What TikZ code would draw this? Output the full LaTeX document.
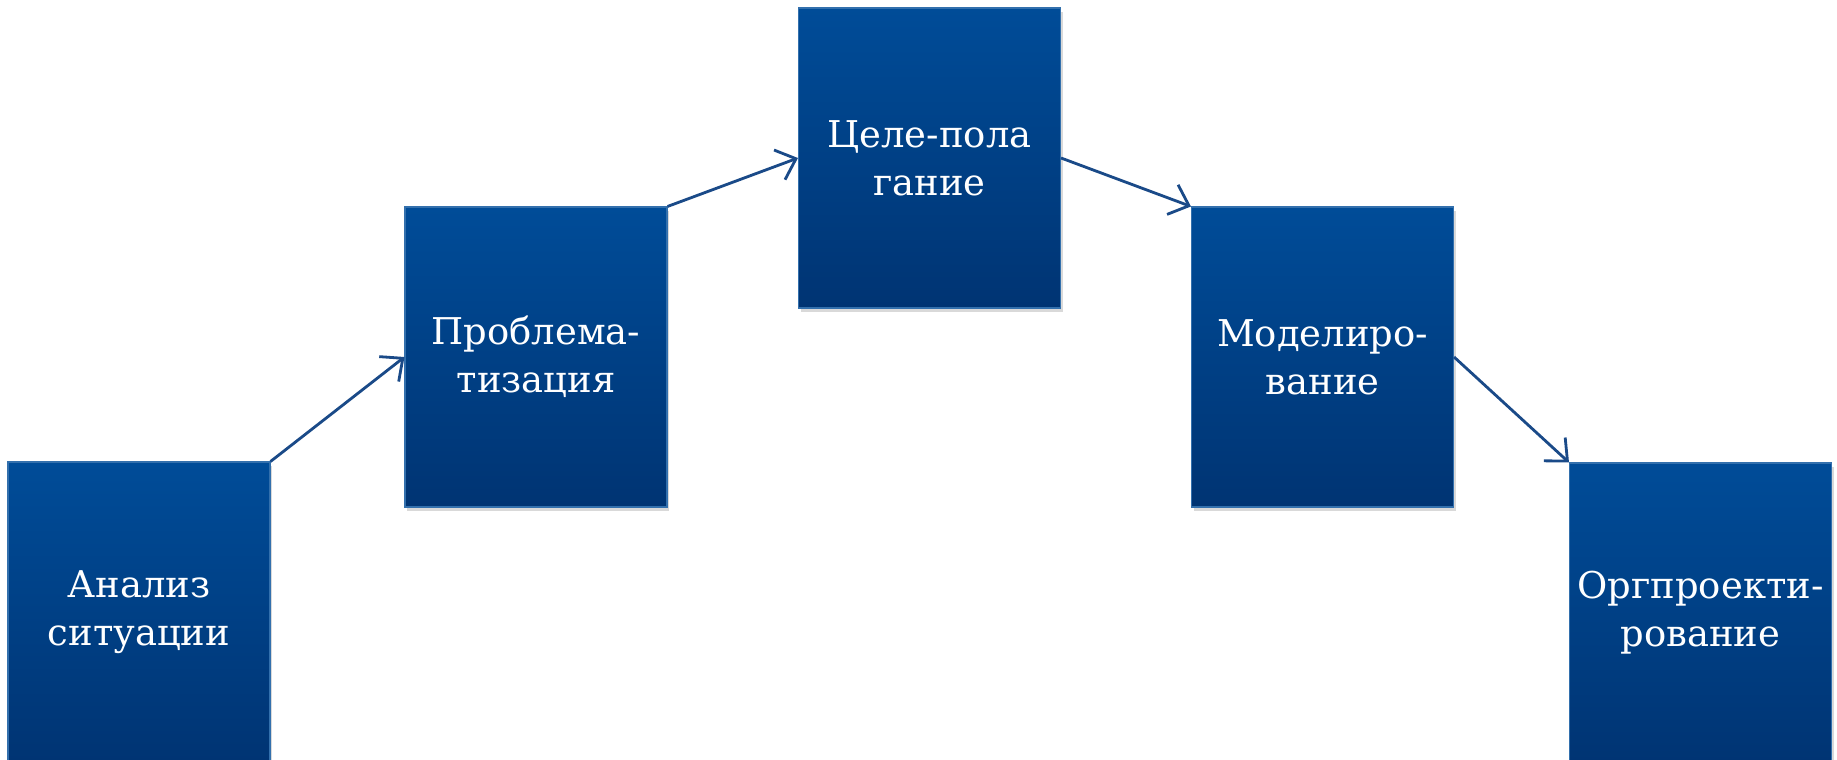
\documentclass[tikz,border=0pt]{standalone}
\usepackage{fontspec}
\setmainfont{DejaVu Serif}
\usepackage{xcolor}
\usepackage{tikz}
\usetikzlibrary{arrows.meta,shadows}

\definecolor{boxtop}{RGB}{0,76,152}
\definecolor{boxbot}{RGB}{0,52,115}
\definecolor{arrowblue}{RGB}{26,74,136}

\begin{document}
\begin{tikzpicture}[
		stage/.style={rectangle, inner sep=0pt, minimum width=2.62cm, minimum height=3cm,
			top color=boxtop, bottom color=boxbot, draw=boxtop!80!white, line width=0.3pt,
			drop shadow={shadow xshift=0.02cm, shadow yshift=-0.04cm, opacity=0.3},
			text=white, align=center, font=\fontsize{10.5}{13.7}\selectfont},
		flow/.style={draw=arrowblue, line width=0.8pt, -{Straight Barb[length=5pt, width=9pt]}}
	]
			\clip (0,0) rectangle (18.37,7.59);
			\node[stage] (analiz) at (1.39,1.47) {Анализ\\ситуации};
			\node[stage] (problema) at (5.36,4.02) {Проблема-\\тизация};
			\node[stage] (cel) at (9.295,6.01) {Целе-пола\\гание};
			\node[stage] (model) at (13.225,4.02) {Моделиро-\\вание};
			\node[stage] (orgproekt) at (17.005,1.46) {Оргпроекти-\\рование};
			\draw[flow] (analiz.north east) -- (problema.west);
			\draw[flow] (problema.north east) -- (cel.west);
			\draw[flow] (cel.east) -- (model.north west);
			\draw[flow] (model.east) -- (orgproekt.north west);
		\end{tikzpicture}
\end{document}
